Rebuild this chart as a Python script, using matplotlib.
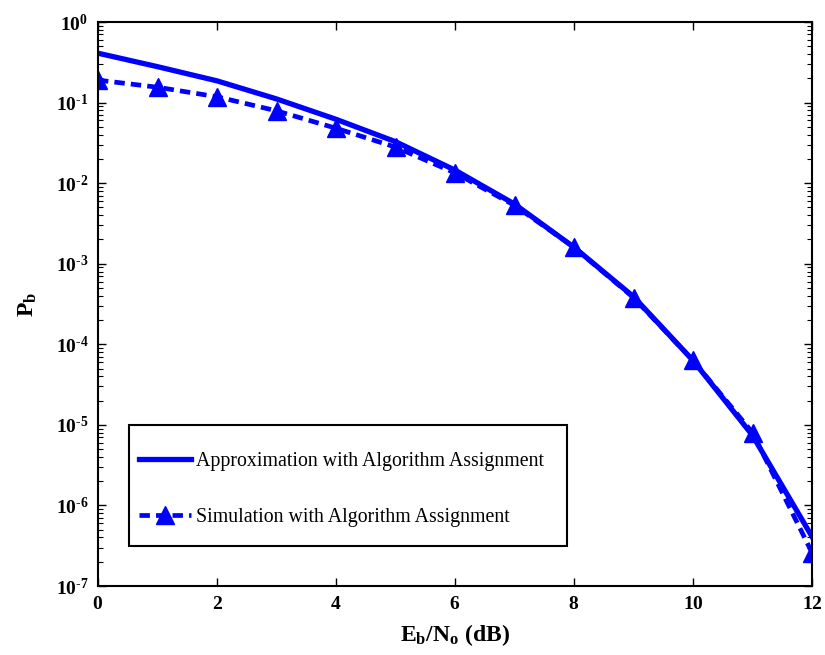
import matplotlib
matplotlib.use("Agg")
import matplotlib.pyplot as plt
from matplotlib.ticker import LogLocator, FuncFormatter, NullFormatter
from matplotlib.patches import Rectangle
import numpy as np

plt.rcParams['font.family'] = ['Liberation Serif', 'DejaVu Serif']
plt.rcParams['mathtext.fontset'] = 'custom'
plt.rcParams['mathtext.rm'] = 'Liberation Serif'
plt.rcParams['mathtext.it'] = 'Liberation Serif'
plt.rcParams['mathtext.bf'] = 'Liberation Serif:bold'

# Data
ebno = [0, 1, 2, 3, 4, 5, 6, 7, 8, 9, 10, 11, 12]
approx = [0.41, 0.279, 0.186, 0.111, 0.062, 0.0327, 0.0145, 0.0055, 0.0016,
          3.9e-4, 6.3e-5, 7.4e-6, 4.1e-7]
sim = [0.19, 0.155, 0.118, 0.079, 0.048, 0.028, 0.0134, 0.0053, 0.0016,
       3.8e-4, 6.3e-5, 8.0e-6, 2.6e-7]
labels = ["Approximation with Algorithm Assignment",
          "Simulation with Algorithm Assignment"]
xticks = [0, 2, 4, 6, 8, 10, 12]

fig = plt.figure(figsize=(8.25, 6.55), dpi=100)
ax = fig.add_axes([98/825, 1-586/655, (812-98)/825, (586-22)/655])

blue = '#0000FF'
ax.semilogy(ebno, approx, '-', color=blue, lw=3.8, label=labels[0])
ax.semilogy(ebno, sim, '--', color=blue, lw=3.4, marker='^', ms=12.5,
            dashes=(2.2, 1.3), label=labels[1])

ax.set_xlim(0, 12)
ax.set_ylim(1e-7, 1)
ax.set_xticks(xticks)
ax.xaxis.set_major_formatter(FuncFormatter(lambda v, p: r'$\mathbf{%d}$' % v))
ax.yaxis.set_major_locator(LogLocator(base=10, numticks=20))
ax.yaxis.set_minor_locator(LogLocator(base=10, subs=np.arange(2, 10), numticks=20))
ax.yaxis.set_minor_formatter(NullFormatter())


def yfmt(v, p):
    if v <= 0:
        return ''
    e = int(round(np.log10(v)))
    es = ('\u2010%d' % (-e)) if e < 0 else '%d' % e
    return r'$\mathbf{10^{%s}}$' % es


ax.yaxis.set_major_formatter(FuncFormatter(yfmt))

ax.tick_params(axis='both', which='both', direction='in', top=True, right=True)
ax.tick_params(axis='both', which='major', length=6, width=1, labelsize=14, pad=7)
ax.tick_params(axis='y', which='minor', length=3.5, width=0.8)
for s in ax.spines.values():
    s.set_linewidth(1.5)

ax.set_xlabel(r'$\mathbf{E_b/N_o}$ (dB)', fontsize=17, fontweight='bold', labelpad=7)
ax.set_ylabel(r'$\mathbf{P_b}$', fontsize=17, fontweight='bold', labelpad=12)

# legend box drawn separately
box = Rectangle((0.0434, 0.0709), 0.613, 0.2145, transform=ax.transAxes,
                facecolor='white', edgecolor='black', linewidth=1.5, zorder=4.9)
ax.add_patch(box)
leg = ax.legend(loc='center left', bbox_to_anchor=(0.0574, 0.171),
                numpoints=1, handlelength=2.6, fontsize=14.3,
                labelspacing=1.84, borderpad=0, borderaxespad=0,
                frameon=False, handletextpad=0.25)
leg.set_zorder(5)

fig.savefig('out.png', dpi=100)
